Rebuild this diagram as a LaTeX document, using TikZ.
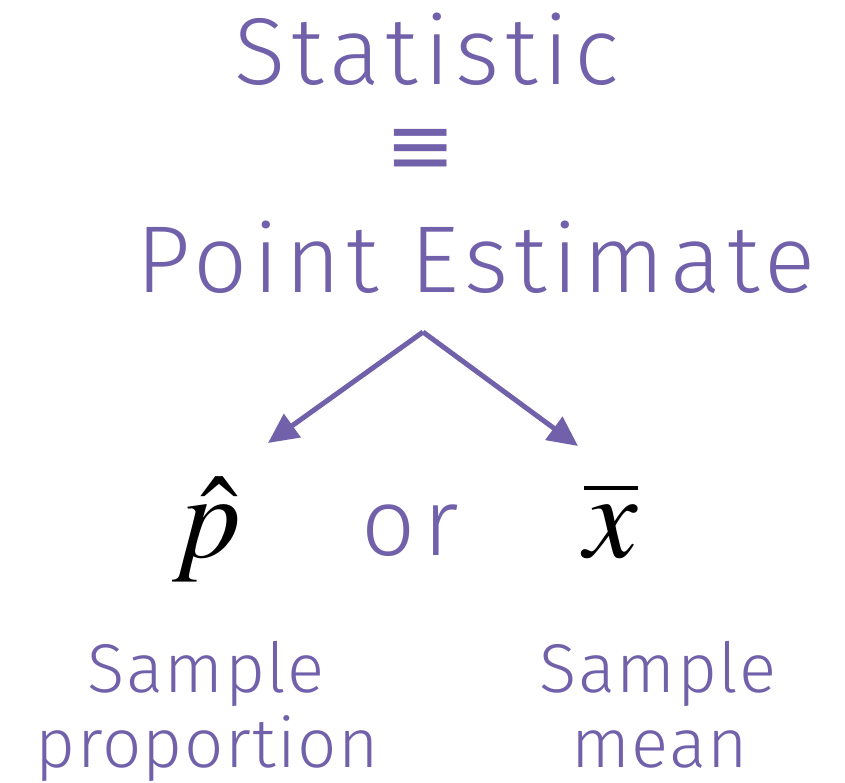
\documentclass[tikz,border=0pt]{standalone}
\usepackage{mathptmx}
\usepackage[no-math]{fontspec}
\setmainfont{Fira Sans Light}[LetterSpace=6]
\newfontfamily\equivfont{DejaVu Sans}
\usepackage{tikz}
\usetikzlibrary{arrows.meta,positioning}
\usepackage{xcolor}
\definecolor{statpurple}{RGB}{113,97,170}

\begin{document}
\begin{tikzpicture}[x=1pt,y=-1pt,
      big/.style={text=statpurple,inner sep=0pt,anchor=base,
                  font=\fontsize{95}{110}\selectfont},
      small/.style={text=statpurple,inner sep=0pt,anchor=base,align=center,
                  font=\fontsize{69}{75}\selectfont\addfontfeatures{LetterSpace=2}},
      sym/.style={inner sep=0pt,anchor=base,font=\fontsize{120}{130}\selectfont},
      arr/.style={-{Triangle[length=30pt,width=28pt]},line width=5pt,
                  draw=statpurple}]
    \useasboundingbox (0,0) rectangle (845,783);
    \node[big] (stat) at (427,85) {Statistic};
    \node[text=statpurple,inner sep=0pt,font=\equivfont\fontsize{84}{90}\selectfont]
      (equiv) at (421,152) {≡};
    \node[big] (point) at (476,293) {Point Estimate};

    \coordinate (fork) at (423,332);
    \coordinate (tipp) at (268,443);
    \coordinate (tipx) at (578,446);
    \draw[arr] (fork) -- (tipp);
    \draw[arr] (fork) -- (tipx);

    \node[sym] (phat) at (207,557) {$\hat{p}$};
    \node[big,font=\fontsize{95}{110}\selectfont\addfontfeatures{LetterSpace=8}]
      (or) at (410,555) {or};
    \node[sym] (xbar) at (611,557) {$\overline{x}$};

    \node[small] (propa) at (206,692) {Sample};
    \node[small] (propb) at (207,767) {proportion};
    \node[small] (meana) at (658,692) {Sample};
    \node[small] (meanb) at (660,767) {mean};
  \end{tikzpicture}
\end{document}
